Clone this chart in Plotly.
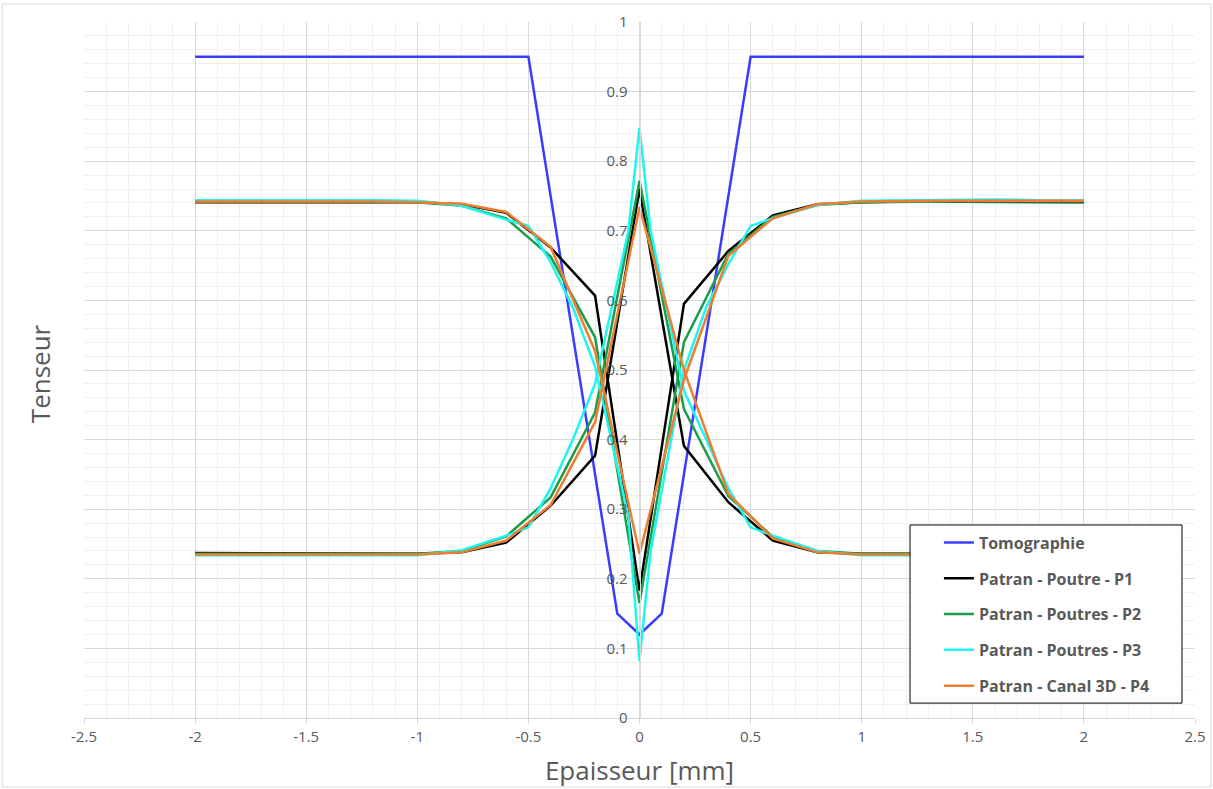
import plotly.graph_objects as go

# ---------------- data ----------------
x_tomo = [-2, -0.5, -0.1, 0, 0.1, 0.5, 2]
y_tomo = [0.95, 0.95, 0.15, 0.12, 0.15, 0.95, 0.95]

x_p = [-2, -1.8, -1.6, -1.4, -1.2, -1.0, -0.8, -0.6, -0.4, -0.2, 0,
       0.2, 0.4, 0.6, 0.8, 1.0, 1.2, 1.4, 1.6, 1.8, 2.0]

p1_upper = [0.741, 0.741, 0.742, 0.742, 0.742, 0.741, 0.738, 0.726, 0.676, 0.607, 0.183,
            0.595, 0.671, 0.722, 0.738, 0.741, 0.742, 0.742, 0.742, 0.741, 0.741]
p1_lower = [0.237, 0.237, 0.236, 0.236, 0.236, 0.236, 0.238, 0.252, 0.305, 0.377, 0.760,
            0.391, 0.310, 0.255, 0.238, 0.236, 0.236, 0.236, 0.236, 0.236, 0.236]

p2_upper = [0.742, 0.742, 0.743, 0.742, 0.742, 0.741, 0.736, 0.718, 0.663, 0.547, 0.165,
            0.540, 0.667, 0.720, 0.737, 0.741, 0.742, 0.742, 0.742, 0.742, 0.742]
p2_lower = [0.236, 0.236, 0.235, 0.236, 0.236, 0.236, 0.240, 0.261, 0.317, 0.439, 0.772,
            0.444, 0.319, 0.260, 0.240, 0.236, 0.236, 0.236, 0.236, 0.236, 0.236]

p4_upper = [0.742, 0.742, 0.743, 0.743, 0.742, 0.741, 0.739, 0.727, 0.677, 0.527, 0.236,
            0.486, 0.664, 0.718, 0.738, 0.742, 0.743, 0.743, 0.743, 0.743, 0.743]
p4_lower = [0.235, 0.235, 0.235, 0.235, 0.235, 0.235, 0.238, 0.255, 0.306, 0.425, 0.734,
            0.500, 0.322, 0.258, 0.238, 0.235, 0.235, 0.235, 0.235, 0.235, 0.235]

x_p3 = [-2, -1.8, -1.6, -1.4, -1.2, -1.0, -0.8, -0.6, -0.5, -0.4, -0.3, -0.2, -0.05, 0,
        0.05, 0.2, 0.3, 0.4, 0.5, 0.6, 0.8, 1.0, 1.2, 1.4, 1.6, 1.8, 2.0]
p3_upper = [0.744, 0.744, 0.745, 0.745, 0.744, 0.743, 0.736, 0.716, 0.707, 0.655, 0.590, 0.505, 0.290, 0.082,
            0.240, 0.500, 0.590, 0.652, 0.707, 0.718, 0.737, 0.743, 0.744, 0.744, 0.745, 0.744, 0.744]
p3_lower = [0.234, 0.234, 0.234, 0.234, 0.234, 0.234, 0.241, 0.262, 0.274, 0.330, 0.400, 0.480, 0.700, 0.848,
            0.700, 0.470, 0.400, 0.330, 0.274, 0.262, 0.240, 0.234, 0.234, 0.234, 0.234, 0.234, 0.234]

x_tickvals = [-2.5, -2, -1.5, -1, -0.5, 0, 0.5, 1, 1.5, 2, 2.5]
x_ticktext = ["-2.5", "-2", "-1.5", "-1", "-0.5", "0", "0.5", "1", "1.5", "2", "2.5"]
y_tickvals = [0, 0.1, 0.2, 0.3, 0.4, 0.5, 0.6, 0.7, 0.8, 0.9, 1]
y_ticktext = ["0", "0.1", "0.2", "0.3", "0.4", "0.5", "0.6", "0.7", "0.8", "0.9", "1"]

series = [
    ("Tomographie", "#3b3bff", [(x_tomo, y_tomo)]),
    ("Patran - Poutre - P1", "#000000", [(x_p, p1_upper), (x_p, p1_lower)]),
    ("Patran - Poutres - P2", "#1a9e4b", [(x_p, p2_upper), (x_p, p2_lower)]),
    ("Patran - Poutres - P3", "#1cf5f0", [(x_p3, p3_upper), (x_p3, p3_lower)]),
    ("Patran - Canal 3D - P4", "#ed7d31", [(x_p, p4_upper), (x_p, p4_lower)]),
]

fig = go.Figure()
for name, color, parts in series:
    for i, (xs, ys) in enumerate(parts):
        fig.add_trace(go.Scatter(
            x=xs, y=ys, mode="lines", name=name,
            line=dict(color=color, width=2.5),
            legendgroup=name, showlegend=(i == 0),
        ))

grey_txt = "#595959"
fig.update_layout(
    width=1213, height=789,
    margin=dict(l=84, r=18, t=22, b=71, autoexpand=False),
    paper_bgcolor="white", plot_bgcolor="white",
    font=dict(family="Open Sans, Liberation Sans, sans-serif", color=grey_txt),
    showlegend=True,
    legend=dict(
        x=0.7695, y=0.2765, xanchor="left", yanchor="top",
        bgcolor="rgba(0,0,0,0)", borderwidth=0,
        font=dict(size=16, color=grey_txt, family="Open Sans, sans-serif", weight="bold"),
        traceorder="grouped", tracegroupgap=12,
    ),
    xaxis=dict(
        range=[-2.5, 2.5], tickvals=x_tickvals, ticktext=x_ticktext,
        automargin=False,
        showgrid=True, gridcolor="#d9d9d9", gridwidth=1,
        minor=dict(dtick=0.1, showgrid=True, gridcolor="#f0f0f0", gridwidth=1),
        showline=True, linecolor="#d9d9d9", linewidth=1,
        ticks="outside", ticklen=5, tickcolor="#d9d9d9",
        zeroline=False,
        tickfont=dict(size=15, color=grey_txt),
        title=dict(text="Epaisseur [mm]", font=dict(size=26, color=grey_txt), standoff=16),
    ),
    yaxis=dict(
        range=[0, 1], tickvals=y_tickvals, ticktext=y_ticktext,
        anchor="free", position=0.5, automargin=False,
        showgrid=True, gridcolor="#d9d9d9", gridwidth=1,
        minor=dict(dtick=0.02, showgrid=True, gridcolor="#f0f0f0", gridwidth=1),
        showline=True, linecolor="#d9d9d9", linewidth=1,
        ticks="", zeroline=False,
        tickfont=dict(size=15, color=grey_txt),
        ticklabelstandoff=9,
        title=dict(text=""),
    ),
)

# y-axis title placed at the left of the chart
fig.add_annotation(
    text="Tenseur", xref="paper", yref="paper", x=-0.0396, y=0.494,
    xanchor="center", yanchor="middle", textangle=-90, showarrow=False,
    font=dict(size=26, color=grey_txt),
)

# legend frame
fig.add_shape(type="rect", xref="paper", yref="paper",
              x0=0.7435, x1=0.9883, y0=0.0214, y1=0.2773,
              line=dict(color="#000000", width=1), fillcolor="white", layer="above")
# outer chart border
fig.add_shape(type="rect", xref="paper", yref="paper",
              x0=-0.0738, x1=1.0144, y0=-0.0991, y1=1.0259,
              line=dict(color="#d9d9d9", width=1), fillcolor="rgba(0,0,0,0)")

fig.write_html("out.html", config={"displayModeBar": False},
               post_script="document.body.style.margin='0px';")
